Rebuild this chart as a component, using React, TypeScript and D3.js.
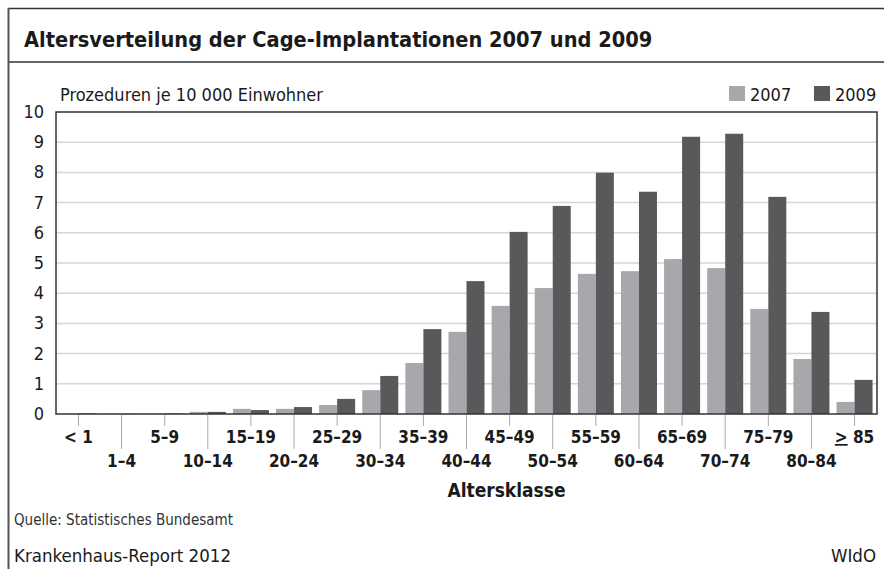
import React from "react";
import * as d3 from "d3";

// Altersverteilung der Cage-Implantationen, Prozeduren je 10 000 Einwohner
const ageGroups = [
  "< 1", "1–4", "5–9", "10–14", "15–19", "20–24", "25–29", "30–34", "35–39", "40–44",
  "45–49", "50–54", "55–59", "60–64", "65–69", "70–74", "75–79", "80–84", "≥ 85",
];
const values2007 = [
  0.01, 0.01, 0.01, 0.07, 0.17, 0.17, 0.3, 0.79, 1.69, 2.72,
  3.58, 4.17, 4.64, 4.73, 5.13, 4.83, 3.48, 1.82, 0.4,
];
const values2009 = [
  0.02, 0.01, 0.02, 0.07, 0.13, 0.23, 0.5, 1.26, 2.81, 4.4,
  6.03, 6.89, 7.99, 7.36, 9.18, 9.28, 7.19, 3.38, 1.13,
];
const years = ["2007", "2009"];
const yTicks = [0, 1, 2, 3, 4, 5, 6, 7, 8, 9, 10];

const W = 884;
const H = 569;
const left = 56, right = 877, top = 112, bottom = 414;
const c2007 = "#a7a8ab";
const c2009 = "#58595b";
const font = "'Liberation Sans Narrow', 'DejaVu Sans Condensed', sans-serif";

export default function App() {
  const x = d3.scaleBand().domain(ageGroups).range([left + 1, right - 1]).paddingInner(0.165).paddingOuter(0.08);
  const y = d3.scaleLinear().domain([0, 10]).range([bottom, top]);
  const color = d3.scaleOrdinal<string, string>().domain(years).range([c2007, c2009]);
  const bw = x.bandwidth() / 2;
  const series = [values2007, values2009];

  return (
    <svg width={W} height={H} style={{ position: "absolute", left: 0, top: 0, fontFamily: font }}>
      <rect width={W} height={H} fill="#fff" />
      {/* frame */}
      <line x1={8} x2={W} y1={8.5} y2={8.5} stroke="#333" strokeWidth={1.5} />
      <line x1={8} x2={W} y1={62} y2={62} stroke="#333" strokeWidth={1.5} />
      <line x1={8.5} x2={8.5} y1={8} y2={H} stroke="#555" strokeWidth={2} />
      <text x={24} y={46.5} fontSize={21.6} fontWeight="bold" fill="#1a1a1a">
        Altersverteilung der Cage-Implantationen 2007 und 2009
      </text>

      {/* grid */}
      {yTicks.filter(t => t > 0 && t < 10).map(t => (
        <line key={t} x1={left} x2={right} y1={y(t)} y2={y(t)} stroke="#d6d6d6" strokeWidth={1.5} />
      ))}
      {yTicks.map(t => (
        <text key={t} x={44} y={y(t) + 6} fontSize={18} textAnchor="end" fill="#1a1a1a">{t}</text>
      ))}

      {/* bars */}
      {series.map((vals, si) => (
        <g key={years[si]} fill={color(years[si])}>
          {vals.map((v, i) => (
            <rect key={i} x={(x(ageGroups[i]) as number) + si * bw} y={y(v)} width={bw} height={bottom - y(v)} />
          ))}
        </g>
      ))}

      {/* plot box */}
      <rect x={left} y={top} width={right - left} height={bottom - top} fill="none" stroke="#333" strokeWidth={1.5} />

      {/* x ticks and labels */}
      {ageGroups.map((g, i) => {
        const cx = (x(g) as number) + x.bandwidth() / 2;
        const low = i % 2 === 1;
        return (
          <g key={g}>
            <line x1={cx} x2={cx} y1={bottom + 1} y2={low ? 449 : 426} stroke="#aaa" strokeWidth={1} />
            <text x={cx} y={low ? 467 : 443} fontSize={17} fontWeight="bold" textAnchor="middle" fill="#1a1a1a">
              {g === "≥ 85" ? (<><tspan textDecoration="underline">&gt;</tspan> 85</>) : g}
            </text>
          </g>
        );
      })}
      <text x={(left + right) / 2 + 40} y={497} fontSize={19} fontWeight="bold" textAnchor="middle" fill="#1a1a1a">Altersklasse</text>

      {/* y label and legend */}
      <text x={60} y={101} fontSize={18} fill="#1a1a1a">Prozeduren je 10 000 Einwohner</text>
      {years.map((yr, i) => (
        <g key={yr} transform={`translate(${729 + i * 85},0)`}>
          <rect x={0} y={86} width={16} height={15} fill={color(yr)} />
          <text x={21} y={101} fontSize={18} fill="#1a1a1a">{yr}</text>
        </g>
      ))}

      {/* footer */}
      <text x={14} y={525} fontSize={15} fill="#333">Quelle: Statistisches Bundesamt</text>
      <text x={14} y={562} fontSize={18.5} fill="#1a1a1a">Krankenhaus-Report 2012</text>
      <text x={876} y={562} fontSize={18.5} textAnchor="end" fill="#1a1a1a">WIdO</text>
    </svg>
  );
}
